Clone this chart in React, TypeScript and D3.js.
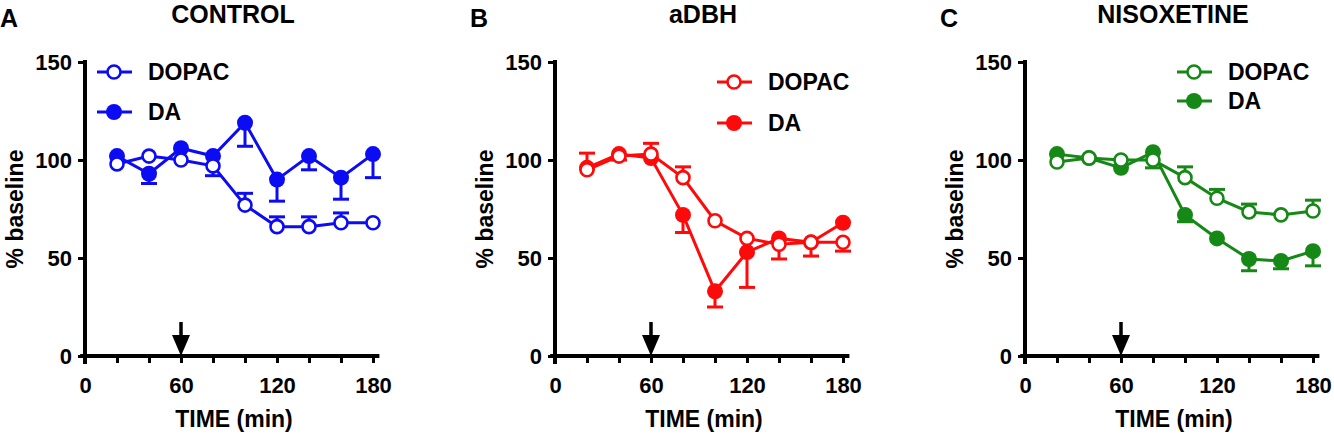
import React, { useEffect, useRef } from "react";
import * as d3 from "d3";

// sampling times (min)
const times = [20, 40, 60, 80, 100, 120, 140, 160, 180];
const xTicks = [0, 20, 40, 60, 80, 100, 120, 140, 160, 180];
const xTickLabels = [0, 60, 120, 180];
const yTicks = [0, 50, 100, 150];
const arrowTime = 60;

const panelLetters = ["A", "B", "C"];
const panelTitles = ["CONTROL", "aDBH", "NISOXETINE"];
const panelColors = ["#0c0cf4", "#ff0a0a", "#168816"];
const seriesNames = ["DOPAC", "DA"];

// % baseline means
const dopacControl = [98, 102, 100, 97, 77, 66, 66, 68, 68];
const daControl = [102, 93, 106, 102, 119, 90, 102, 91, 103];
const dopacDbh = [95, 102, 103, 91, 69, 60, 57, 58, 58];
const daDbh = [96, 103, 101, 72, 33, 53, 60, 58, 68];
const dopacNis = [99, 101, 100, 100, 91, 80.5, 73.5, 72, 74];
const daNis = [103, 101, 96, 104, 72, 60, 49.5, 48.5, 53.5];

// error bar end values (one-sided SEM), null = not visible
const dopacControlErr = [null, null, null, null, 83, 71, 71, 73, null];
const daControlErr = [null, 88, null, 92, 107, 79, 95, 80, 91];
const dopacDbhErr = [103.5, null, 108.5, 96.5, null, null, 49.5, 51, 53.5];
const daDbhErr = [null, 100, null, 63, 25, 35, null, null, null];
const dopacNisErr = [null, null, null, null, 96.5, 85, 77.5, null, 79.5];
const daNisErr = [null, null, null, 96, 68.5, null, 43.5, 44.5, 46];

const dopacAll = [dopacControl, dopacDbh, dopacNis];
const daAll = [daControl, daDbh, daNis];
const dopacErrAll = [dopacControlErr, dopacDbhErr, dopacNisErr];
const daErrAll = [daControlErr, daDbhErr, daNisErr];

// layout
const W = 1334;
const H = 435;
const panelX = [85, 555, 1025];
const top = 62;
const plotW = 288;
const plotH = 294;
const legendPos = [
  { cx: 29, y1: 10, y2: 50 },
  { cx: 179, y1: 20, y2: 61 },
  { cx: 169, y1: 10, y2: 39 },
];
const font = "'Liberation Sans', Arial, Helvetica, sans-serif";

const App: React.FC = () => {
  const svgRef = useRef<SVGSVGElement | null>(null);

  useEffect(() => {
    if (!svgRef.current) return;
    const svg = d3.select(svgRef.current);
    svg.selectAll("*").remove();

    const x = d3.scaleLinear().domain([0, 180]).range([0, plotW]);
    const y = d3.scaleLinear().domain([0, 150]).range([plotH, 0]);

    panelTitles.forEach((title, p) => {
      const color = panelColors[p];
      const g = svg.append("g").attr("transform", `translate(${panelX[p]},${top})`);

      // headers
      g.append("text")
        .attr("x", -85)
        .attr("y", 27 - top)
        .attr("font-size", 25)
        .attr("font-weight", "bold")
        .attr("font-family", font)
        .text(panelLetters[p]);
      g.append("text")
        .attr("x", 148)
        .attr("y", 23 - top)
        .attr("text-anchor", "middle")
        .attr("font-size", 25)
        .attr("font-weight", "bold")
        .attr("font-family", font)
        .text(title);

      // axes
      const yAxis = g.append("g").call(
        d3.axisLeft(y).tickValues(yTicks).tickSize(7).tickSizeOuter(0).tickPadding(6)
      );
      const xAxis = g
        .append("g")
        .attr("transform", `translate(0,${plotH})`)
        .call(
          d3
            .axisBottom(x)
            .tickValues(xTicks)
            .tickSize(7)
            .tickSizeOuter(0)
            .tickPadding(14)
            .tickFormat((d) => (xTickLabels.includes(+d) ? String(d) : ""))
        );
      [yAxis, xAxis].forEach((a) => {
        a.select(".domain").remove();
        a.selectAll("line").attr("stroke", "#000").attr("stroke-width", 3);
        a.selectAll("text")
          .attr("font-size", 22)
          .attr("font-weight", "bold")
          .attr("font-family", font)
          .attr("fill", "#000");
      });
      g.append("line")
        .attr("x1", x(0))
        .attr("x2", x(0))
        .attr("y1", y(0) + 8)
        .attr("y2", y(151))
        .attr("stroke", "#000")
        .attr("stroke-width", 4);
      g.append("line")
        .attr("x1", x(-3))
        .attr("x2", x(184))
        .attr("y1", y(0))
        .attr("y2", y(0))
        .attr("stroke", "#000")
        .attr("stroke-width", 4);

      // axis titles
      g.append("text")
        .attr("transform", `translate(-62,${209 - top}) rotate(-90)`)
        .attr("text-anchor", "middle")
        .attr("font-size", 23)
        .attr("font-weight", "bold")
        .attr("font-family", font)
        .text("% baseline");
      g.append("text")
        .attr("x", 149)
        .attr("y", 427 - top)
        .attr("text-anchor", "middle")
        .attr("font-size", 23)
        .attr("font-weight", "bold")
        .attr("font-family", font)
        .text("TIME (min)");

      // treatment arrow
      const ax = x(arrowTime);
      g.append("line")
        .attr("x1", ax)
        .attr("x2", ax)
        .attr("y1", y(0) - 34)
        .attr("y2", y(0) - 18)
        .attr("stroke", "#000")
        .attr("stroke-width", 3.5);
      g.append("path")
        .attr("d", `M${ax - 9},${y(0) - 21}L${ax + 9},${y(0) - 21}L${ax},${y(0)}Z`)
        .attr("fill", "#000");

      const line = d3
        .line<number>()
        .x((_, i) => x(times[i]))
        .y((d) => y(d));

      const drawSeries = (vals: number[], errs: (number | null)[], open: boolean) => {
        const s = g.append("g");
        s.append("path")
          .attr("d", line(vals))
          .attr("fill", "none")
          .attr("stroke", color)
          .attr("stroke-width", 3);
        vals.forEach((v, i) => {
          const e = errs[i];
          if (e == null) return;
          const cx = x(times[i]);
          s.append("line")
            .attr("x1", cx)
            .attr("x2", cx)
            .attr("y1", y(v))
            .attr("y2", y(e))
            .attr("stroke", color)
            .attr("stroke-width", 3);
          s.append("line")
            .attr("x1", cx - 8)
            .attr("x2", cx + 8)
            .attr("y1", y(e))
            .attr("y2", y(e))
            .attr("stroke", color)
            .attr("stroke-width", 3);
        });
        s.selectAll("circle")
          .data(vals)
          .enter()
          .append("circle")
          .attr("cx", (_, i) => x(times[i]))
          .attr("cy", (d) => y(d))
          .attr("r", open ? 6.5 : 8)
          .attr("fill", open ? "#fff" : color)
          .attr("stroke", open ? color : "none")
          .attr("stroke-width", 2.6);
      };

      drawSeries(daAll[p], daErrAll[p], false);
      drawSeries(dopacAll[p], dopacErrAll[p], true);

      // legend
      const lp = legendPos[p];
      seriesNames.forEach((name, k) => {
        const ly = k === 0 ? lp.y1 : lp.y2;
        const open = k === 0;
        g.append("line")
          .attr("x1", lp.cx - 17)
          .attr("x2", lp.cx + 18)
          .attr("y1", ly)
          .attr("y2", ly)
          .attr("stroke", color)
          .attr("stroke-width", 3);
        g.append("circle")
          .attr("cx", lp.cx)
          .attr("cy", ly)
          .attr("r", open ? 6.5 : 8)
          .attr("fill", open ? "#fff" : color)
          .attr("stroke", open ? color : "none")
          .attr("stroke-width", 2.6);
        g.append("text")
          .attr("x", lp.cx + 34)
          .attr("y", ly)
          .attr("dy", "0.36em")
          .attr("font-size", 23)
          .attr("font-weight", "bold")
          .attr("font-family", font)
          .text(name);
      });
    });
  }, []);

  return (
    <div style={{ position: "absolute", left: 0, top: 0 }}>
      <svg ref={svgRef} width={W} height={H} style={{ display: "block", background: "#fff" }}></svg>
    </div>
  );
};

export default App;
